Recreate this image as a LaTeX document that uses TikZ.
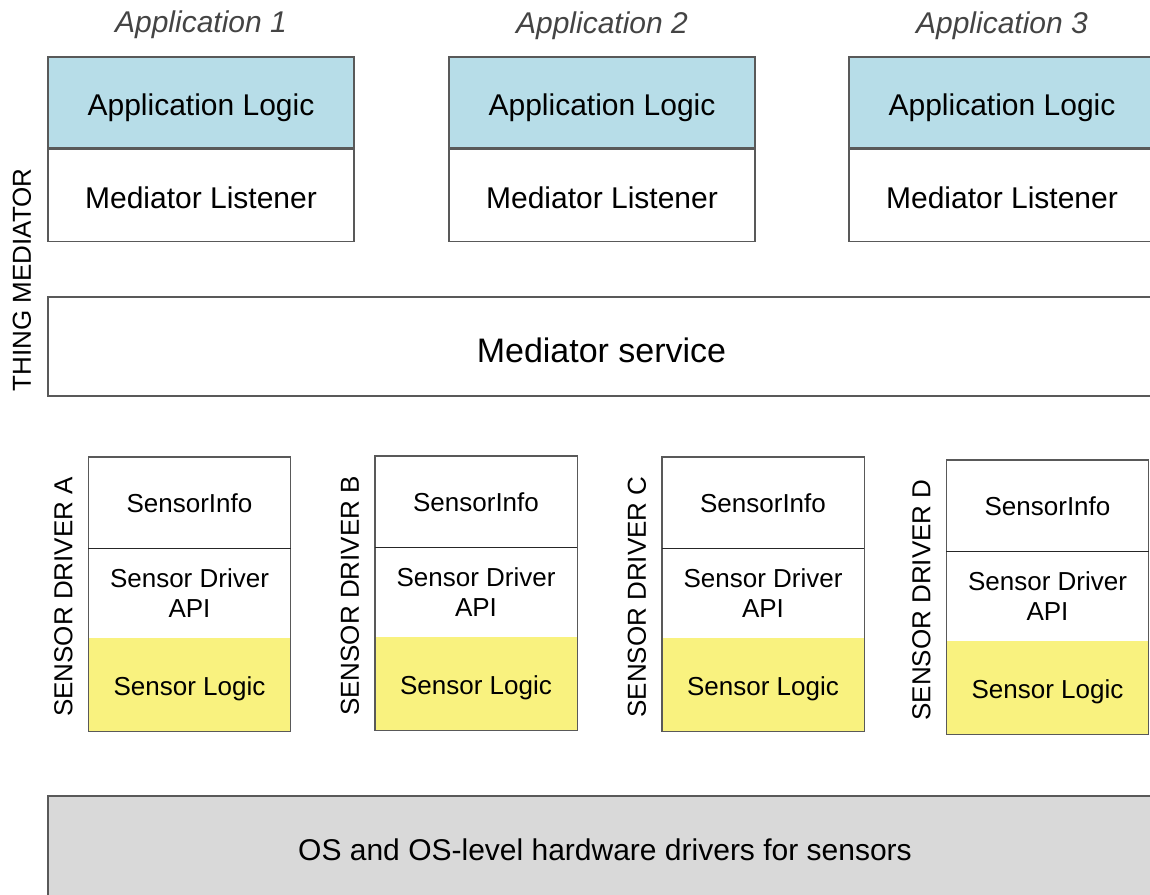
\documentclass[tikz,border=0pt]{standalone}
\usepackage{fontspec}
\setmainfont{Liberation Sans}
\definecolor{logicblue}{HTML}{B7DDE8}
\definecolor{sensyellow}{HTML}{F9F27F}
\definecolor{osgray}{HTML}{D9D9D9}
\definecolor{edgegray}{HTML}{595959}
\definecolor{labelgray}{HTML}{444444}
\usetikzlibrary{positioning}

\tikzset{
  layerbox/.style={draw=edgegray, line width=1.4pt, minimum width=306, minimum height=91,
    inner sep=0pt, text height=26pt, text depth=0pt, font=\fontsize{30}{34}\selectfont},
  sensorpart/.style={minimum width=202, inner sep=0pt, align=center,
    font=\fontsize{26}{30}\selectfont},
  sidelabel/.style={rotate=90, font=\fontsize{26}{30}\selectfont}
}

\begin{document}
\begin{tikzpicture}[x=1pt, y=-1pt]
  \clip (0, 0) rectangle (1150, 894);

  % Applications
  \foreach \n/\cx/\ty in {1/201/25, 2/602/26, 3/1002/26} {
    \node[font=\itshape\fontsize{30}{34}\selectfont, labelgray] (app\n) at (\cx, \ty) {Application \n};
    \node[layerbox, fill=logicblue, minimum height=91] (logic\n) at (\cx, 102.5) {Application Logic};
    \node[layerbox, below=0pt of logic\n, minimum height=92] (listener\n) {Mediator Listener};
  }

  % Thing mediator
  \node[sidelabel] (thing) at (22, 280) {THING MEDIATOR};
  \node[layerbox, minimum width=1107, minimum height=99, text height=31pt,
    font=\fontsize{34}{38}\selectfont] (service) at (601.5, 346.5) {Mediator service};

  % Sensor drivers
  \foreach \name/\cx/\top in {A/189.5/457, B/476/456, C/763/457, D/1047.5/460} {
    \node[sensorpart, minimum height=91, text height=20pt, text depth=0pt, anchor=north] (info\name) at (\cx, \top) {SensorInfo};
    \node[sensorpart, minimum height=89, below=0pt of info\name] (api\name) {Sensor Driver\\API};
    \node[sensorpart, minimum height=93, text height=21.5pt, text depth=0pt, fill=sensyellow,
      below=0pt of api\name] (slogic\name) {Sensor Logic};
    \draw[edgegray, line width=1.4pt] (info\name.north west) rectangle (slogic\name.south east);
    \draw[black!85, line width=1.6pt] (info\name.south west) -- (info\name.south east);
    \node[sidelabel] (driver\name) at (\cx-126, \top+140) {SENSOR DRIVER \name};
  }

  % OS layer
  \node[layerbox, fill=osgray, minimum width=1114, minimum height=106, text height=22pt] (os) at (605, 849)
    {OS and OS-level hardware drivers for sensors};
\end{tikzpicture}
\end{document}
